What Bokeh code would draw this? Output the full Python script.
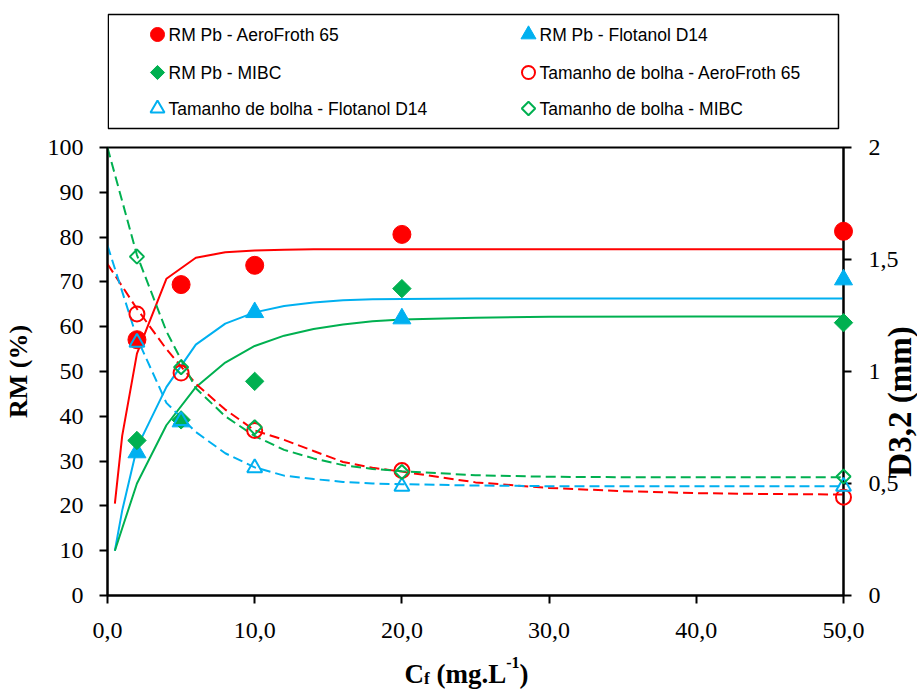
import numpy as np
from bokeh.plotting import figure
from bokeh.models import Range1d, LinearAxis, FixedTicker
from bokeh.layouts import column
from bokeh.embed import file_html
from bokeh.resources import INLINE
from bokeh.core.properties import value

# ---------------- data ----------------
conc = [2, 5, 10, 20, 50]
rm_aero = [57.1, 69.4, 73.7, 80.6, 81.3]
rm_flot = [31.9, 38.8, 63.2, 61.8, 70.5]
rm_mibc = [34.6, 39.2, 47.8, 68.5, 60.9]
d32_aero = [1.257, 0.993, 0.737, 0.558, 0.439]
d32_flot = [1.13, 0.78, 0.570, 0.487, 0.487]
d32_mibc = [1.513, 1.019, 0.751, 0.551, 0.531]

fit_rm_x = [0.5, 1, 2, 4, 6, 8, 10, 12, 14, 16, 18, 20, 25, 30, 40, 50]
fit_rm_aero = [20.5, 35.7, 54.0, 70.7, 75.4, 76.6, 77.0, 77.2, 77.3, 77.3, 77.3, 77.3, 77.3, 77.3, 77.3, 77.3]
fit_rm_flot = [10.0, 19.0, 33.0, 46.5, 56.0, 60.7, 63.2, 64.6, 65.4, 65.9, 66.1, 66.2, 66.3, 66.3, 66.3, 66.3]
fit_rm_mibc = [10.0, 15.0, 25.0, 38.0, 46.5, 52.0, 55.7, 58.0, 59.5, 60.5, 61.2, 61.6, 62.0, 62.2, 62.3, 62.3]

fit_d_x = [0, 2, 4, 6, 8, 10, 12, 14, 16, 18, 20, 25, 30, 35, 40, 45, 50]
fit_d_aero = [1.48, 1.28, 1.10, 0.945, 0.83, 0.737, 0.695, 0.645, 0.596, 0.57, 0.553, 0.505, 0.48, 0.466, 0.457, 0.453, 0.451]
fit_d_flot = [1.5625, 1.15, 0.86, 0.73, 0.635, 0.572, 0.535, 0.52, 0.507, 0.50, 0.497, 0.491, 0.488, 0.488, 0.488, 0.488, 0.488]
fit_d_mibc = [2.0, 1.52, 1.18, 0.925, 0.80, 0.712, 0.65, 0.612, 0.582, 0.565, 0.555, 0.537, 0.530, 0.528, 0.528, 0.528, 0.528]

series_names = ["RM Pb - AeroFroth 65", "RM Pb - Flotanol D14", "RM Pb - MIBC",
                "Tamanho de bolha - AeroFroth 65", "Tamanho de bolha - Flotanol D14",
                "Tamanho de bolha - MIBC"]

x_ticks = [0, 10, 20, 30, 40, 50]
x_tick_labels = ["0,0", "10,0", "20,0", "30,0", "40,0", "50,0"]
y_ticks = [0, 10, 20, 30, 40, 50, 60, 70, 80, 90, 100]
y_tick_labels = ["0", "10", "20", "30", "40", "50", "60", "70", "80", "90", "100"]
y2_ticks = [0, 0.5, 1, 1.5, 2]
y2_tick_labels = ["0", "0,5", "1", "1,5", "2"]

y_title = "RM (%)"
y2_title = "D3,2 (mm)"
x_title_parts = ["C", "f", "(mg.L", "-1", ")"]

# ---------------- style ----------------
RED, BLUE, GREEN = "#FF0000", "#00B0F0", "#00B050"
SERIF = "Liberation Serif"
SANS = "Liberation Sans"
W, H = 917, 693
BL, BR = 107, 74            # left / right borders -> frame 107..843
FRAME_TOP, FRAME_BOTTOM = 147, 595
LEG_H = 135
MAIN_H = H - LEG_H

# marker styles: (color, marker, filled, angle, size main, size legend)
styles = [
    (RED, "circle", True, 0.0, 18, 14),
    (BLUE, "triangle", True, 0.0, 18, 15),
    (GREEN, "square", True, np.pi / 4, 13, 10),
    (RED, "circle", False, 0.0, 15, 13),
    (BLUE, "triangle", False, 0.0, 15, 14),
    (GREEN, "square", False, np.pi / 4, 10, 9.5),
]

# ---------------- main figure ----------------
p = figure(width=W, height=MAIN_H, x_range=Range1d(0, 50), y_range=Range1d(0, 100),
           output_backend="svg", toolbar_location=None,
           min_border_left=BL, min_border_right=BR, min_border_top=FRAME_TOP - LEG_H,
           min_border_bottom=H - FRAME_BOTTOM)
p.extra_y_ranges = {"d": Range1d(0, 2)}
p.grid.visible = False
p.outline_line_color = "black"
p.outline_line_width = 2
p.border_fill_color = "white"

for ys, c in [(fit_rm_aero, RED), (fit_rm_flot, BLUE), (fit_rm_mibc, GREEN)]:
    p.line(fit_rm_x, ys, line_color=c, line_width=2)
for ys, c in [(fit_d_aero, RED), (fit_d_flot, BLUE), (fit_d_mibc, GREEN)]:
    p.line(fit_d_x, ys, line_color=c, line_width=2, line_dash="10 5", y_range_name="d")

series_y = [rm_aero, rm_flot, rm_mibc, d32_aero, d32_flot, d32_mibc]
for i, (ys, st) in enumerate(zip(series_y, styles)):
    c, mk, filled, ang, sz, _ = st
    kw = dict(marker=mk, size=sz, angle=ang, line_color=c, line_width=1 if filled else 2,
              fill_color=c if filled else None, level="overlay")
    if i >= 3:
        kw["y_range_name"] = "d"
    p.scatter(conc, ys, **kw)


def style_axis(ax, standoff):
    ax.axis_line_width = 2
    ax.axis_line_color = "black"
    ax.major_tick_line_width = 2
    ax.major_tick_line_color = "black"
    ax.major_tick_out = 8
    ax.major_tick_in = 0
    ax.minor_tick_line_color = None
    ax.major_label_text_font = SERIF
    ax.major_label_text_font_size = "24px"
    ax.major_label_text_color = "black"
    ax.major_label_standoff = standoff
    ax.axis_label_text_font = SERIF
    ax.axis_label_text_font_style = "bold"
    ax.axis_label_text_font_size = "26px"
    ax.axis_label_text_color = "black"


xa = p.xaxis[0]
xa.ticker = FixedTicker(ticks=x_ticks)
xa.major_label_overrides = dict(zip(x_ticks, x_tick_labels))
style_axis(xa, 19)

ya = p.yaxis[0]
ya.ticker = FixedTicker(ticks=y_ticks)
ya.major_label_overrides = dict(zip(y_ticks, y_tick_labels))
style_axis(ya, 16)
ya.axis_label = y_title
ya.axis_label_standoff = 12

ax2 = LinearAxis(y_range_name="d", ticker=FixedTicker(ticks=y2_ticks))
ax2.major_label_overrides = dict(zip(y2_ticks, y2_tick_labels))
style_axis(ax2, 17)
p.add_layout(ax2, "right")

# right-axis title, anchored at the right axis (x=50, middle of the D3,2 range)
p.text(x=[50], y=[1], text=[y2_title], y_range_name="d", x_offset=56, y_offset=30,
       angle=np.pi / 2, text_align="center", text_baseline="middle",
       text_font=value(SERIF), text_font_style="bold", text_font_size="33px",
       text_color="black", level="overlay")

# x-axis title with subscript / superscript, anchored at the origin of the axis
x0 = 404 - BL
base = 673 - FRAME_BOTTOM
offsets = [(0, 0, "27px"), (19.5, 5, "17px"), (32, 0, "27px"), (101.7, -11, "16px"), (115, 0, "27px")]
for t, (dx, dy, fs) in zip(x_title_parts, offsets):
    p.text(x=[0], y=[0], text=[t], x_offset=x0 + dx, y_offset=base + dy,
           text_font=value(SERIF), text_font_style="bold", text_font_size=fs,
           text_align="left", text_baseline="alphabetic", text_color="black", level="overlay")

# ---------------- legend figure ----------------
FW = W - BL - BR
leg = figure(width=W, height=LEG_H, x_range=Range1d(0, FW), y_range=Range1d(0, LEG_H),
             output_backend="svg", toolbar_location=None,
             min_border_left=BL, min_border_right=BR, min_border_top=0, min_border_bottom=0,
             x_axis_location=None, y_axis_location=None)
leg.grid.visible = False
leg.outline_line_color = None
leg.border_fill_color = "white"
leg.quad(left=[0.75], right=[838 - BL], top=[LEG_H - 14], bottom=[LEG_H - 128],
         fill_color=None, line_color="black", line_width=1.5)

col_marker = [50, 421]
col_text = [61, 432]
rows = [LEG_H - 34, LEG_H - 72, LEG_H - 108]
for i, (name, st) in enumerate(zip(series_names, styles)):
    c, mk, filled, ang, _, szl = st
    r, cidx = divmod(i, 2)
    leg.scatter([col_marker[cidx]], [rows[r]], marker=mk, size=szl, angle=ang, line_color=c,
                line_width=1 if filled else 2, fill_color=c if filled else None)
    leg.text([col_text[cidx]], [rows[r]], text=[name], text_font=value(SANS),
             text_font_size="17.5px", text_baseline="middle", text_align="left",
             text_color="black")

layout = column(leg, p, spacing=0)
open("out.html", "w").write(file_html(layout, INLINE))
